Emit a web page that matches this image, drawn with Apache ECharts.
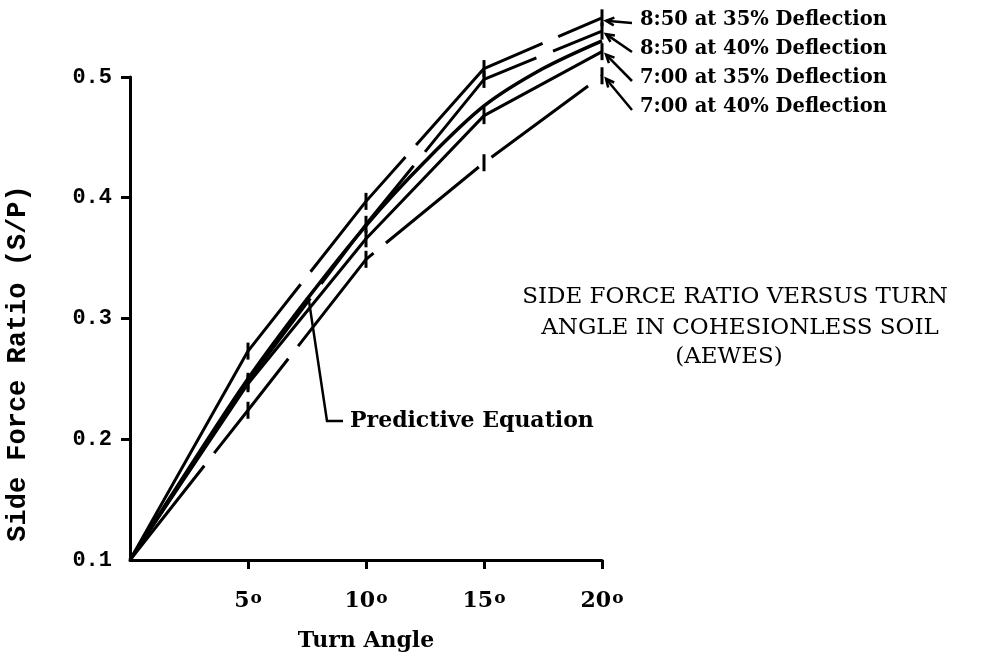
<!DOCTYPE html>
<html><head><meta charset="utf-8">
<script src="https://cdn.jsdelivr.net/npm/echarts@6/dist/echarts.min.js"></script>
<style>html,body{margin:0;background:#fff}#c{width:990px;height:657px}</style>
</head><body><div id="c"></div>
<script>
// ---- data ----
const turnAngles = [0, 5, 10, 15, 20];
const s850at35 = [0.1, 0.273, 0.397, 0.507, 0.549];
const s850at40 = [0.1, 0.248, 0.378, 0.498, 0.538];
const s700at35 = [0.1, 0.246, 0.366, 0.468, 0.521];
const s700at40 = [0.1, 0.224, 0.349, 0.429, 0.501];
const predAngles = [0, 2.5, 5, 7.5, 10, 12.5, 15, 17.5, 20];
const predValues = [0.1, 0.176, 0.25, 0.316, 0.377, 0.43, 0.476, 0.507, 0.53];
const xTickValues = [5, 10, 15, 20];
const yTickValues = [0.2, 0.3, 0.4, 0.5];
const yLabelValues = [0.1, 0.2, 0.3, 0.4, 0.5];
const seriesNames = ['8:50 at 35% Deflection', '8:50 at 40% Deflection', '7:00 at 35% Deflection', '7:00 at 40% Deflection'];
const predName = 'Predictive Equation';
const titleLines = ['SIDE FORCE RATIO VERSUS TURN', 'ANGLE IN COHESIONLESS SOIL', '(AEWES)'];

const pairs = (xs, ys) => xs.map((x, i) => [x, ys[i]]);
const dataSeries = [s850at35, s850at40, s700at35, s700at40];
const dashTypes = [[325, 16, 149, 16, 166, 17, 80], [150, 18], 'solid', [120, 16]];

const chart = echarts.init(document.getElementById('c'));
const mono = '"Liberation Mono", "DejaVu Sans Mono", monospace';
const serif = '"DejaVu Serif", "Liberation Serif", serif';

const series = dataSeries.map((vals, i) => ({
  name: seriesNames[i],
  type: 'line',
  clip: false,
  data: pairs(turnAngles, vals).map((p, j) => j === 0 ? { value: p, symbol: 'none' } : p),
  symbol: 'rect',
  symbolSize: [3, 17],
  showSymbol: true,
  itemStyle: { color: '#000' },
  lineStyle: { color: '#000', width: 3, type: dashTypes[i] },
  animation: false,
  z: 3
}));
series.push({
  name: predName,
  type: 'line',
  clip: false,
  data: pairs(predAngles, predValues),
  smooth: 0.3,
  symbol: 'none',
  lineStyle: { color: '#000', width: 3.5 },
  animation: false,
  z: 2
});

chart.setOption({
  backgroundColor: '#fff',
  animation: false,
  grid: { left: 130, right: 388, top: 77, bottom: 94, containLabel: false },
  xAxis: {
    type: 'value', min: 0, max: 20, interval: 5,
    name: 'Turn Angle', nameLocation: 'middle', nameGap: 70,
    nameTextStyle: { fontFamily: serif, fontWeight: 'bold', fontSize: 22, color: '#000' },
    axisLine: { show: true, lineStyle: { color: '#000', width: 3 } },
    axisTick: { show: true, inside: false, length: 9, customValues: xTickValues, lineStyle: { color: '#000', width: 3 } },
    axisLabel: {
      customValues: xTickValues, margin: 30,
      formatter: v => '{n|' + v + '}{d|o}',
      rich: {
        n: { fontFamily: serif, fontWeight: 'bold', fontSize: 22, color: '#000' },
        d: { fontFamily: serif, fontWeight: 'bold', fontSize: 17, color: '#000', verticalAlign: 'top', padding: [0, 0, 0, 1] }
      }
    },
    splitLine: { show: false }
  },
  yAxis: {
    type: 'value', min: 0.1, max: 0.5, interval: 0.1,
    name: 'Side Force Ratio (S/P)', nameLocation: 'middle', nameGap: 98, nameRotate: 90,
    nameTextStyle: { fontFamily: mono, fontWeight: 'bold', fontSize: 27, color: '#000', padding: [0, 90, 0, 0] },
    axisLine: { show: true, lineStyle: { color: '#000', width: 3 } },
    axisTick: { show: true, inside: false, length: 9, customValues: yTickValues, lineStyle: { color: '#000', width: 3 } },
    axisLabel: {
      customValues: yLabelValues, margin: 18,
      formatter: v => v.toFixed(1),
      fontFamily: mono, fontWeight: 'bold', fontSize: 22, color: '#000'
    },
    splitLine: { show: false }
  },
  series: series
});

// ---- annotations (labels with leader lines to the 20° points) ----
const labelYs = [20, 49, 78, 107];
const labelX = 640;
const graphics = [];
dataSeries.forEach((vals, i) => {
  const p = chart.convertToPixel({ gridIndex: 0 }, [turnAngles[turnAngles.length - 1], vals[vals.length - 1]]);
  const sx = labelX - 8, sy = labelYs[i] + 3;
  const tx = p[0] + 4, ty = p[1] + 3;
  graphics.push({ type: 'line', shape: { x1: sx, y1: sy, x2: tx, y2: ty }, style: { stroke: '#000', lineWidth: 2.5 } });
  const ang = Math.atan2(sy - ty, sx - tx);
  const ah = 9;
  graphics.push({ type: 'polyline', shape: { points: [
    [tx + ah * Math.cos(ang - 0.45), ty + ah * Math.sin(ang - 0.45)], [tx, ty],
    [tx + ah * Math.cos(ang + 0.45), ty + ah * Math.sin(ang + 0.45)] ] },
    style: { stroke: '#000', lineWidth: 2.5, fill: null } });
  graphics.push({ type: 'text', x: labelX, y: labelYs[i], style: {
    text: seriesNames[i], fontFamily: serif, fontWeight: 'bold', fontSize: 19.5, fill: '#000', verticalAlign: 'middle' } });
});
// predictive equation leader
const pt = chart.convertToPixel({ gridIndex: 0 }, [predAngles[3], predValues[3]]);
graphics.push({ type: 'polyline', shape: { points: [[pt[0] + 2, pt[1] + 2], [pt[0] + 20, 421], [343, 421]] }, style: { stroke: '#000', lineWidth: 2.5, fill: null } });
graphics.push({ type: 'text', x: 350, y: 421, style: { text: predName, fontFamily: serif, fontWeight: 'bold', fontSize: 22, fill: '#000', verticalAlign: 'middle' } });
// block title
const titleYs = [297, 328, 357];
const titleXs = [735, 740, 729];
titleLines.forEach((t, i) => {
  graphics.push({ type: 'text', x: titleXs[i], y: titleYs[i], style: { text: t, fontFamily: serif, fontSize: 23, fill: '#000', align: 'center', verticalAlign: 'middle' } });
});
chart.setOption({ graphic: graphics });
</script></body></html>
